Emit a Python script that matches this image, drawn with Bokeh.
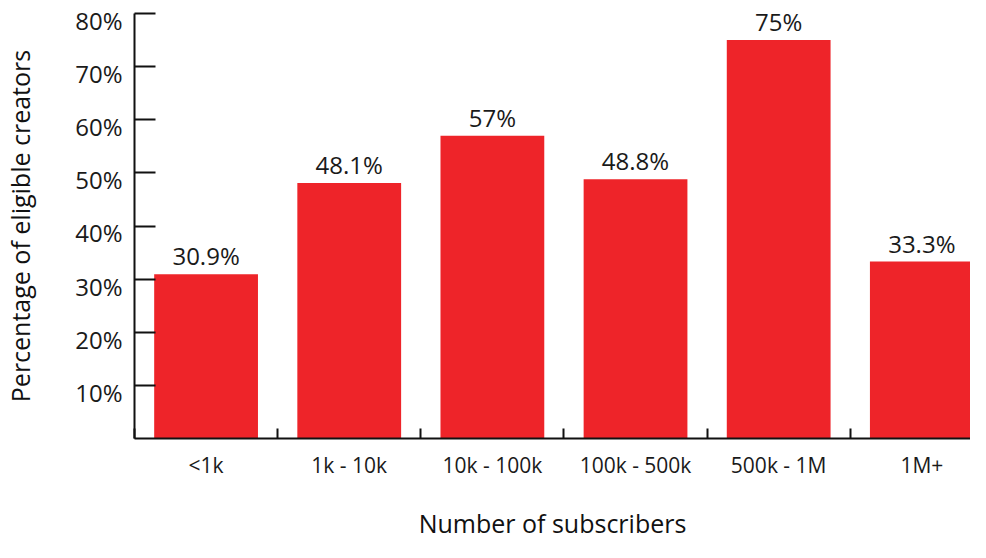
from bokeh.plotting import figure
from bokeh.models import (Range1d, FixedTicker, PrintfTickFormatter, ColumnDataSource,
                          LinearAxis, LabelSet)
from bokeh.core.properties import value
from bokeh.embed import file_html
from bokeh.resources import INLINE

categories = ["<1k", "1k - 10k", "10k - 100k", "100k - 500k", "500k - 1M", "1M+"]
percentages = [30.9, 48.1, 57, 48.8, 75, 33.3]
y_ticks = [10, 20, 30, 40, 50, 60, 70, 80]

FONT = "Open Sans"
RED = "#EE2429"
TXT = "#1a1a1a"
LINE = "#111111"

xs = [i + 0.5 for i in range(len(categories))]
labels = [("%g" % v) + "%" for v in percentages]
src = ColumnDataSource(dict(x=xs, top=percentages, label=labels))

p = figure(width=970, height=542, output_backend="svg", toolbar_location=None,
           x_range=Range1d(0, 5.84), y_range=Range1d(0, 80),
           min_border_left=133, min_border_right=0, min_border_top=13, min_border_bottom=103)
p.outline_line_color = None
p.grid.visible = False
p.background_fill_color = "white"

p.vbar(x="x", top="top", width=0.725, bottom=0, source=src, color=RED, line_color=None)
p.add_layout(LabelSet(x="x", y="top", text="label", source=src, text_align="center",
                      text_baseline="bottom", y_offset=2, text_font=value(FONT),
                      text_font_size=value("24px"), text_color=TXT))

# x axis
xa = p.xaxis[0]
xa.ticker = FixedTicker(ticks=xs, minor_ticks=list(range(len(categories) + 1)))
xa.major_label_overrides = {x: c for x, c in zip(xs, categories)}
xa.major_tick_in = 0
xa.major_tick_out = 0
xa.minor_tick_in = 10
xa.minor_tick_out = 0
xa.minor_tick_line_width = 2
xa.minor_tick_line_color = LINE
xa.axis_line_width = 2
xa.axis_line_color = LINE
xa.major_label_text_font = FONT
xa.major_label_text_font_size = "21px"
xa.major_label_text_color = TXT
xa.major_label_standoff = 12
xa.axis_label = "Number of subscribers"
xa.axis_label_text_font = FONT
xa.axis_label_text_font_size = "25px"
xa.axis_label_text_font_style = "normal"
xa.axis_label_text_color = LINE
xa.axis_label_standoff = 24

# y axis: line and (inward) ticks only, no labels
ya = p.yaxis[0]
ya.ticker = FixedTicker(ticks=[], minor_ticks=y_ticks)
ya.major_tick_line_color = None
ya.minor_tick_in = 21
ya.minor_tick_out = 0
ya.minor_tick_line_width = 2
ya.minor_tick_line_color = LINE
ya.axis_line_width = 2
ya.axis_line_color = LINE
ya.major_label_standoff = 0

# y labels sit just below their ticks in the reference: a label axis on a slightly shifted range
p.extra_y_ranges = {"lab": Range1d(1.3, 81.3)}
la = LinearAxis(y_range_name="lab", ticker=FixedTicker(ticks=y_ticks),
                formatter=PrintfTickFormatter(format="%d%%"))
la.axis_line_color = None
la.major_tick_line_color = None
la.minor_tick_line_color = None
la.major_tick_in = 0
la.major_tick_out = 0
la.major_label_text_font = FONT
la.major_label_text_font_size = "24px"
la.major_label_text_color = TXT
la.major_label_standoff = 12
la.axis_label = "Percentage of eligible creators"
la.axis_label_text_font = FONT
la.axis_label_text_font_size = "25px"
la.axis_label_text_font_style = "normal"
la.axis_label_text_color = LINE
la.axis_label_standoff = 35
p.add_layout(la, "left")

open("out.html", "w").write(file_html(p, INLINE))
